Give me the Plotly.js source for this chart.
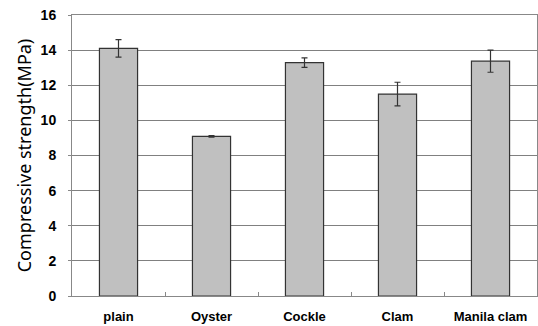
<!DOCTYPE html>
<html><head><meta charset="utf-8">
<script src="https://cdn.plot.ly/plotly-3.0.1.min.js"></script>
<style>body{margin:0;background:#fff}#c{width:538px;height:326px}</style>
</head><body><div id="c"></div>
<script>
const categories = ["plain", "Oyster", "Cockle", "Clam", "Manila clam"];
const strength = [14.1, 9.09, 13.29, 11.5, 13.37];
const errorMargin = [0.5, 0.04, 0.27, 0.67, 0.63];
const yTicks = [0, 2, 4, 6, 8, 10, 12, 14, 16];

const trace = {
  type: 'bar', x: categories, y: strength, width: 0.41,
  marker: {color: '#c0c0c0', line: {color: '#333333', width: 1.2}},
  error_y: {type: 'data', array: errorMargin, visible: true, color: '#333333', thickness: 1.2, width: 3}
};
const layout = {
  width: 538, height: 326,
  margin: {l: 72, r: 1, t: 15, b: 30},
  paper_bgcolor: '#fff', plot_bgcolor: '#fff',
  showlegend: false,
  font: {color: '#000'},
  xaxis: {
    tickson: 'boundaries', ticks: 'inside', ticklen: 4, tickcolor: '#888',
    showline: true, linecolor: '#888', linewidth: 1, mirror: true,
    ticklabelstandoff: 8,
    tickfont: {family: 'Arial, Liberation Sans', size: 13, color: '#000', weight: 'bold'},
    fixedrange: true
  },
  yaxis: {
    range: [0, 16], tickvals: yTicks, ticktext: yTicks.map(String),
    ticks: 'outside', ticklen: 3, tickcolor: '#888',
    showgrid: true, gridcolor: '#808080', gridwidth: 1,
    showline: true, linecolor: '#888', linewidth: 1, mirror: true,
    zeroline: false, ticklabelstandoff: 9,
    tickfont: {family: 'Arial, Liberation Sans', size: 14, color: '#000', weight: 'bold'},
    title: {text: 'Compressive strength(MPa)', font: {family: 'Noto Sans', size: 18, color: '#000000'}, standoff: 4}
  }
};
Plotly.newPlot('c', [trace], layout, {displayModeBar: false, staticPlot: true});
</script></body></html>
